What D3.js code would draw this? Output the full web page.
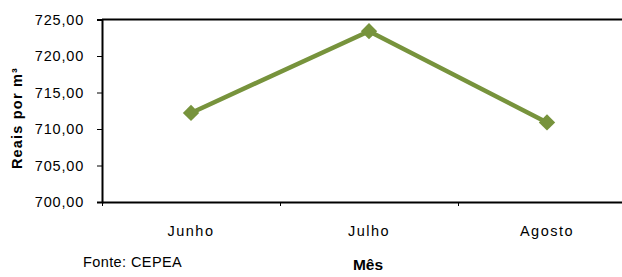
<!DOCTYPE html>
<html>
<head>
<meta charset="utf-8">
<script src="https://cdn.jsdelivr.net/npm/d3@7/dist/d3.min.js"></script>
<style>
  body { margin: 0; background: #fff; }
  svg { display: block; font-family: "Liberation Sans", Arial, sans-serif; }
</style>
</head>
<body>
<div id="chart"></div>
<script>
var months = ["Junho", "Julho", "Agosto"];
var prices = [712.2, 723.4, 710.9];
var yTicks = [700, 705, 710, 715, 720, 725];

var width = 622, height = 277;
var plotLeft = 102, plotRight = 636, plotTop = 19.5, plotBottom = 202;

var svg = d3.select("#chart").append("svg")
    .attr("width", width)
    .attr("height", height);

var x = d3.scaleBand().domain(months).range([plotLeft, plotRight]);
var xEdge = d3.scaleLinear().domain([0, months.length]).range([plotLeft, plotRight]);
var y = d3.scaleLinear().domain([700, 725]).range([plotBottom, plotTop]);

// top frame line
svg.append("line")
    .attr("x1", plotLeft).attr("x2", plotRight)
    .attr("y1", y(725)).attr("y2", y(725))
    .attr("stroke", "#000").attr("stroke-width", 2);

// y axis
var yAxis = svg.append("g")
    .attr("transform", "translate(" + plotLeft + ",0)")
    .call(d3.axisLeft(y).tickValues(yTicks).tickSize(5).tickPadding(13)
        .tickFormat(function (d) { return d3.format(".2f")(d).replace(".", ","); }));
yAxis.select(".domain").attr("stroke-width", 2);
yAxis.selectAll(".tick line").attr("stroke-width", 1);
yAxis.selectAll("text")
    .attr("font-size", 14.5)
    .attr("letter-spacing", 0.8)
    .attr("fill", "#000")
    .attr("font-family", "Liberation Sans, Arial, sans-serif");

// x axis with ticks on the category edges
var xAxis = svg.append("g")
    .attr("transform", "translate(0," + plotBottom + ")")
    .call(d3.axisBottom(xEdge).tickValues(d3.range(months.length + 1)).tickSize(4).tickSizeOuter(0).tickFormat(""));
xAxis.select(".domain").attr("stroke-width", 2);
xAxis.selectAll(".tick line").attr("stroke-width", 1);

svg.append("g").selectAll("text")
    .data(months)
    .enter()
    .append("text")
    .attr("x", function (d) { return x(d) + x.bandwidth() / 2; })
    .attr("y", 236)
    .attr("text-anchor", "middle")
    .attr("font-size", 14.5)
    .attr("letter-spacing", 1.5)
    .text(function (d) { return d; });

// line
var line = d3.line()
    .x(function (d, i) { return x(months[i]) + x.bandwidth() / 2; })
    .y(function (d) { return y(d); });

svg.append("path")
    .datum(prices)
    .attr("d", line)
    .attr("fill", "none")
    .attr("stroke", "#77933C")
    .attr("stroke-width", 4.5);

svg.append("g").selectAll("path")
    .data(prices)
    .enter()
    .append("path")
    .attr("d", d3.symbol().type(d3.symbolDiamond2).size(170))
    .attr("transform", function (d, i) {
        return "translate(" + (x(months[i]) + x.bandwidth() / 2) + "," + y(d) + ")";
    })
    .attr("fill", "#77933C");

// axis titles
svg.append("text")
    .attr("transform", "translate(22,118) rotate(-90)")
    .attr("text-anchor", "middle")
    .attr("font-size", 14.5)
    .attr("font-weight", "bold")
    .attr("letter-spacing", 1.2)
    .text("Reais por m³");

svg.append("text")
    .attr("x", 368)
    .attr("y", 270)
    .attr("text-anchor", "middle")
    .attr("font-size", 15.5)
    .attr("font-weight", "bold")
    .text("Mês");

svg.append("text")
    .attr("x", 83)
    .attr("y", 267)
    .attr("font-size", 14.5)
    .attr("letter-spacing", 0.4)
    .text("Fonte: CEPEA");
</script>
</body>
</html>
